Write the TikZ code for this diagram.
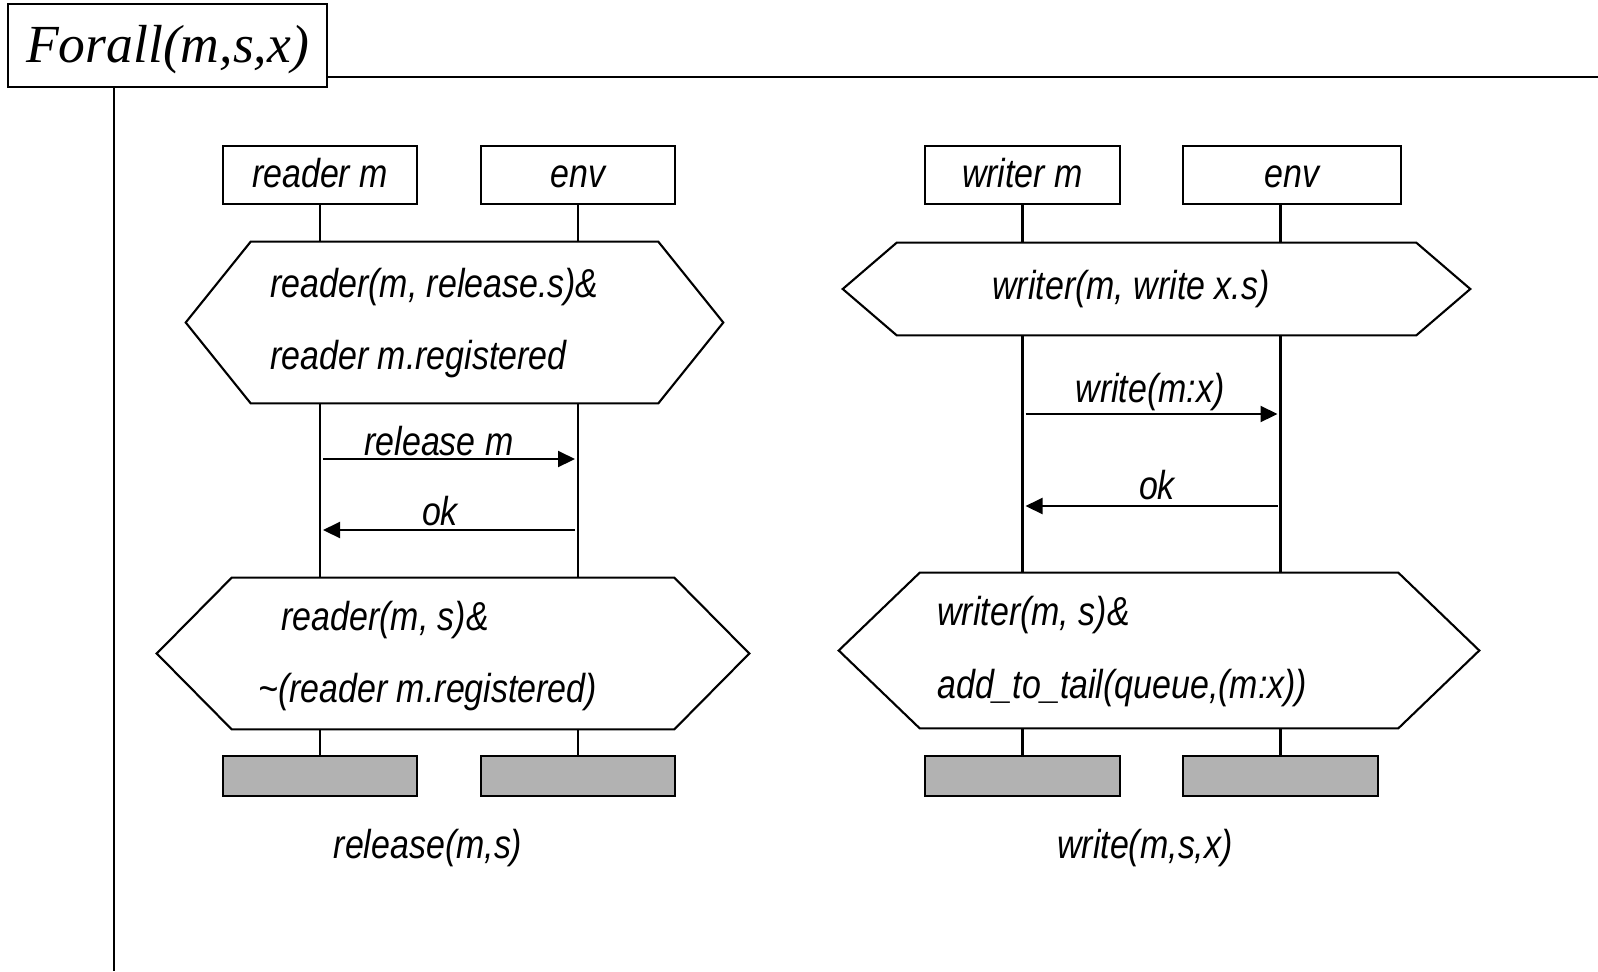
\documentclass[tikz,border=0pt]{standalone}
\usepackage{fontspec}
\usetikzlibrary{arrows.meta}

\newfontfamily\sdlfont[FakeStretch=0.84]{Liberation Sans}
\newfontfamily\titlefont{Liberation Serif}

\tikzset{
	inst/.style={draw, line width=1.2pt, minimum height=1.16cm, inner sep=0pt, text height=18pt, text depth=4.2pt, font=\sdlfont\itshape\fontsize{23}{26}\selectfont},
	stopbox/.style={draw, line width=1.2pt, fill=black!30, minimum height=0.8cm, inner sep=0pt},
	cond/.style={draw=none, inner sep=0pt},
	txt/.style={inner sep=0pt, font=\sdlfont\itshape\fontsize{23}{26}\selectfont},
	life/.style={line width=1.2pt},
	msg/.style={line width=1.2pt, shorten <=0.06cm, shorten >=0.06cm, -{Triangle[length=0.34cm,width=0.32cm]}},
}

\begin{document}
\begin{tikzpicture}[x=0.02cm, y=-0.02cm]
				\useasboundingbox (0,0) rectangle (1598,971);

				% frame
				\node[draw, line width=1.2pt, minimum width=6.38cm, minimum height=1.66cm, inner sep=0pt, text height=26pt, text depth=6.4pt, font=\titlefont\itshape\fontsize{30.5}{34}\selectfont] (ttl) at (167.5,45.5) {Forall(m,s,x)};
				\coordinate (tend) at (1598,77);
				\coordinate (lend) at (114,971);
				\draw[line width=1.2pt] (ttl.east |- tend) -- (tend);
				\draw[line width=1.2pt] (ttl.south -| lend) -- (lend);

				\begin{scope}
					% release
					\node[inst, minimum width=3.88cm] (rdm) at (320,175) {reader m};
					\node[inst, minimum width=3.88cm] (renv) at (578,175) {env};

					\node[cond, minimum width=10.74cm, minimum height=3.22cm] (c1) at (454.5,322.5) {};
					\draw[life] (c1.west) -- ([xshift=1.3cm]c1.north west) -- ([xshift=-1.3cm]c1.north east) -- (c1.east) -- ([xshift=-1.3cm]c1.south east) -- ([xshift=1.3cm]c1.south west) -- cycle;
					\node[txt, anchor=west] (c1a) at (270,287) {reader(m, release.s)\&};
					\node[txt, anchor=west] (c1b) at (270,359) {reader m.registered};

					\node[cond, minimum width=11.84cm, minimum height=3.02cm] (c2) at (453,653.5) {};
					\draw[life] (c2.west) -- ([xshift=1.5cm]c2.north west) -- ([xshift=-1.5cm]c2.north east) -- (c2.east) -- ([xshift=-1.5cm]c2.south east) -- ([xshift=1.5cm]c2.south west) -- cycle;
					\node[txt, anchor=west] (c2a) at (281,620) {reader(m, s)\&};
					\node[txt, anchor=west] (c2b) at (258,692) {\textasciitilde(reader m.registered)};

					\node[stopbox, minimum width=3.88cm] (rstop) at (320,776) {};
					\node[stopbox, minimum width=3.88cm] (estop) at (578,776) {};

					\draw[life] (rdm.south) -- (rdm.south |- c1.north);
					\draw[life] (rdm.south |- c1.south) -- (rdm.south |- c2.north);
					\draw[life] (rdm.south |- c2.south) -- (rstop.north);
					\draw[life] (renv.south) -- (renv.south |- c1.north);
					\draw[life] (renv.south |- c1.south) -- (renv.south |- c2.north);
					\draw[life] (renv.south |- c2.south) -- (estop.north);

					\draw[msg] (rdm.south |- 0,459) -- (renv.south |- 0,459); % reader -> env
					\node[txt] (lrel) at (439,441) {release m};
					\draw[msg] (renv.south |- 0,530) -- (rdm.south |- 0,530); % env -> reader
					\node[txt] (lok1) at (440,511) {ok};

					\node[txt] (lname1) at (428,848) {release(m,s)};
				\end{scope}

				\begin{scope}
					% write
					\node[inst, minimum width=3.9cm] (wrm) at (1022.5,175) {writer m};
					\node[inst, minimum width=4.36cm] (wenv) at (1292,175) {env};

					\node[cond, minimum width=12.54cm, minimum height=1.84cm] (c3) at (1156.5,289) {};
					\draw[life] (c3.west) -- ([xshift=1.08cm]c3.north west) -- ([xshift=-1.08cm]c3.north east) -- (c3.east) -- ([xshift=-1.08cm]c3.south east) -- ([xshift=1.08cm]c3.south west) -- cycle;
					\node[txt] (c3a) at (1131,289) {writer(m, write x.s)};

					\node[cond, minimum width=12.8cm, minimum height=3.1cm] (c4) at (1159,650.5) {};
					\draw[life] (c4.west) -- ([xshift=1.62cm]c4.north west) -- ([xshift=-1.62cm]c4.north east) -- (c4.east) -- ([xshift=-1.62cm]c4.south east) -- ([xshift=1.62cm]c4.south west) -- cycle;
					\node[txt, anchor=west] (c4a) at (937,615.5) {writer(m, s)\&};
					\node[txt, anchor=west] (c4b) at (937,688) {add\_to\_tail(queue,(m:x))};

					\node[stopbox, minimum width=3.9cm] (wstop) at (1022.5,776) {};
					\node[stopbox, minimum width=3.9cm] (wes) at (1280.5,776) {};

					\draw[life] (wrm.south) -- (wrm.south |- c3.north);
					\draw[life] (wrm.south |- c3.south) -- (wrm.south |- c4.north);
					\draw[life] (wrm.south |- c4.south) -- (wstop.north);
					\draw[life] (wes.north |- wenv.south) -- (wes.north |- c3.north);
					\draw[life] (wes.north |- c3.south) -- (wes.north |- c4.north);
					\draw[life] (wes.north |- c4.south) -- (wes.north);

					\draw[msg] (wrm.south |- 0,414) -- (wes.north |- 0,414); % writer -> env
					\node[txt] (lwr) at (1150,392) {write(m:x)};
					\draw[msg] (wes.north |- 0,506) -- (wrm.south |- 0,506); % env -> writer
					\node[txt] (lok2) at (1157,485) {ok};

					\node[txt] (lname2) at (1145,848) {write(m,s,x)};
				\end{scope}
			\end{tikzpicture}
\end{document}
